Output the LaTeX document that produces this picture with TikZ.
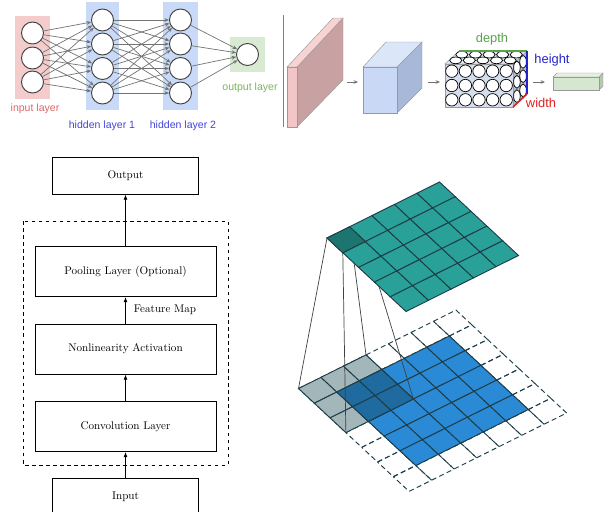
\documentclass[tikz,border=0pt]{standalone}
\usepackage{fontspec}
\newfontfamily\netfont{Liberation Sans}
\usetikzlibrary{arrows.meta}
\definecolor{inPink}{HTML}{F4CCCC}
\definecolor{hidBlue}{HTML}{C9DAF8}
\definecolor{outGreen}{HTML}{D9EAD3}
\definecolor{inRed}{HTML}{E06666}
\definecolor{hidText}{HTML}{4343D8}
\definecolor{outText}{HTML}{7DB35E}
\definecolor{slabFront}{HTML}{F2C6C6}
\definecolor{slabTop}{HTML}{F7D3D3}
\definecolor{slabSide}{HTML}{C8A2A2}
\definecolor{boxFront}{HTML}{C9D9F5}
\definecolor{boxTop}{HTML}{DCE6F9}
\definecolor{boxSide}{HTML}{A8B8D8}
\definecolor{cubeFill}{HTML}{D4DEEC}
\definecolor{fcFront}{HTML}{D5E8CF}
\definecolor{fcTop}{HTML}{E4F1DF}
\definecolor{fcSide}{HTML}{B6C8B0}
\definecolor{depthGreen}{HTML}{5DA04A}
\definecolor{heightBlue}{HTML}{2424CC}
\definecolor{widthRed}{HTML}{E02020}
\definecolor{gridLine}{HTML}{1D3E48}
\definecolor{outTeal}{HTML}{2AA198}
\definecolor{outTealDk}{HTML}{1C766F}
\definecolor{inBlue}{HTML}{2B8AD6}
\definecolor{inBlueDk}{HTML}{1F6A9E}
\definecolor{kerGray}{HTML}{A3B6BA}

\begin{document}
\begin{tikzpicture}[x=0.3mm,y=-0.3mm,
  neuron/.style={circle,draw=black!75,fill=white,line width=0.8pt,minimum size=6.6mm,inner sep=0pt},
  syn/.style={draw=black!55,line width=0.6pt,-{Stealth[length=1.4mm,width=1.1mm]}},
  netlbl/.style={font=\netfont\fontsize{9}{10}\selectfont},
  dimlbl/.style={font=\netfont\fontsize{11}{12}\selectfont},
  stage/.style={draw,line width=0.7pt,minimum width=54.3mm,minimum height=15mm,font=\fontsize{9.5}{11}\selectfont},
  io/.style={stage,minimum width=43.8mm,minimum height=11.1mm},
  flow/.style={-{Latex[length=1.6mm,width=1.2mm]},line width=0.7pt},
  face/.style={draw=black!40,line width=0.4pt},
  small/.style={draw=black!55,line width=0.6pt,-{Stealth[length=1.3mm,width=1.1mm]}},
  pad/.style={draw=gridLine,line width=0.8pt,dash pattern=on 1.5mm off 1mm},
  cell/.style={draw=gridLine,line width=0.8pt},
  lower/.style={shift={(298.5,388.5)},x={(6.75mm,3.36mm)},y={(4.74mm,-4.41mm)}},
  upper/.style={shift={(327,238)},x={(6.75mm,3.36mm)},y={(4.74mm,-4.41mm)}}]
  \useasboundingbox (0,0) rectangle (609,512);
  \clip (0,0) rectangle (609,512);

  % fully connected net
  \fill[inPink] (15,16) rectangle (50,99);
  \fill[hidBlue] (86,2) rectangle (119,110);
  \fill[hidBlue] (163,2) rectangle (198,110);
  \fill[outGreen] (230,37) rectangle (265,72);
  \foreach \i/\y in {1/33,2/58,3/82}
    \node[neuron] (in\i) at (32.5,\y) {};
  \foreach \i/\y in {1/20,2/44,3/68.5,4/93} {
    \node[neuron] (ha\i) at (102.5,\y) {};
    \node[neuron] (hb\i) at (180.5,\y) {};
  }
  \node[neuron] (out) at (247.5,54.5) {};
  \foreach \i in {1,2,3}
    \foreach \j in {1,...,4}
      \draw[syn] (in\i) -- (ha\j);
  \foreach \i in {1,...,4}
    \foreach \j in {1,...,4}
      \draw[syn] (ha\i) -- (hb\j);
  \foreach \i in {1,...,4}
    \draw[syn] (hb\i) -- (out);
  \node[netlbl,text=inRed] (inlbl) at (35,109) {input layer};
  \node[netlbl,text=hidText] (halbl) at (102,126) {hidden layer 1};
  \node[netlbl,text=hidText] (hblbl) at (183,126) {hidden layer 2};
  \node[netlbl,text=outText] (outlbl) at (250,88) {output layer};
  \draw[black!50,line width=0.8pt] (283,15) -- (283,127);

  % volumes
  \filldraw[face,fill=slabSide] (297,67) -- (343,18) -- (343,80) -- (297,127) -- cycle;
  \filldraw[face,fill=slabTop] (287,67) -- (333,18) -- (343,18) -- (297,67) -- cycle;
  \filldraw[face,fill=slabFront] (287,67) rectangle (297,127);
  \filldraw[face,fill=boxSide] (397,67) -- (422,42) -- (422,88) -- (397,113) -- cycle;
  \filldraw[face,fill=boxTop] (363,67) -- (386,42) -- (422,42) -- (397,67) -- cycle;
  \filldraw[face,fill=boxFront] (363,67) rectangle (397,113);
  \filldraw[face,fill=cubeFill!85!black] (513,64) -- (527,51) -- (527,94) -- (513,107) -- cycle;
  \filldraw[face,fill=cubeFill!80!white] (445,64) -- (459,51) -- (527,51) -- (513,64) -- cycle;
  \filldraw[face,fill=cubeFill] (445,64) rectangle (513,107);
  \foreach \d in {0.72,0.28}
    \foreach \i in {0,...,4} {
      \filldraw[fill=white,draw=black,line width=0.6pt] (451.8+13.6*\i+14*\d,64-13*\d) ellipse [x radius=6.1,y radius=3.3];
    }
  \foreach \d in {0.72,0.28}
    \foreach \j in {0,1,2} {
      \filldraw[fill=white,draw=black,line width=0.6pt] (513+14*\d,71.2+14.3*\j-13*\d) ellipse [x radius=3.3,y radius=6.4];
    }
  \foreach \i in {0,...,4}
    \foreach \j in {0,1,2}
      \filldraw[fill=white,draw=black,line width=0.6pt] (451.8+13.6*\i,71.2+14.3*\j) circle [radius=6.2];
  \draw[depthGreen,line width=1.3pt] (459,51) -- (527,51);
  \draw[heightBlue,line width=1.3pt] (527,51) -- (527,94);
  \draw[widthRed,line width=1.3pt] (513,107) -- (527,94);
  \node[dimlbl,text=depthGreen] (dlbl) at (492,39) {depth};
  \node[dimlbl,text=heightBlue] (hlbl) at (552,60) {height};
  \node[dimlbl,text=widthRed] (wlbl) at (541,103) {width};
  \filldraw[face,fill=fcSide] (599,77) -- (603,73) -- (603,86) -- (599,90) -- cycle;
  \filldraw[face,fill=fcTop] (553,77) -- (557,73) -- (603,73) -- (599,77) -- cycle;
  \filldraw[face,fill=fcFront] (553,77) rectangle (599,90);
  \coordinate (a1) at (347,82);
  \coordinate (b1) at (358,82);
  \coordinate (a2) at (428,82);
  \coordinate (b2) at (440,82);
  \coordinate (a3) at (533,82);
  \coordinate (b3) at (545,82);
  \draw[small] (a1) -- (b1);
  \draw[small] (a2) -- (b2);
  \draw[small] (a3) -- (b3);

  % CNN block
  \node[io] (outp) at (125.5,175.5) {Output};
  \node[stage] (pool) at (125.5,271.5) {Pooling Layer (Optional)};
  \node[stage] (act) at (125.5,349) {Nonlinearity Activation};
  \node[stage] (conv) at (125.5,426.5) {Convolution Layer};
  \node[io] (inp) at (125.5,496.5) {Input};
  \draw[dashed,line width=0.7pt] (23,221) rectangle (228,465);
  \draw[flow] (inp) -- (conv);
  \draw[flow] (conv) -- (act);
  \draw[flow] (act) -- node[right=1.2mm,font=\fontsize{9.5}{11}\selectfont] (fmap) {Feature Map} (pool);
  \draw[flow] (pool) -- (outp);

  % convolution over padded input
  \begin{scope}[lower]
    \foreach \a in {0,...,6}
      \foreach \b in {0,...,6}
        \draw[pad] (\a,\b) -- ++(1,0) -- ++(0,1) -- ++(-1,0) -- cycle;
    \foreach \a in {1,...,5}
      \foreach \b in {1,...,5}
        \filldraw[cell,fill=inBlue] (\a,\b) -- ++(1,0) -- ++(0,1) -- ++(-1,0) -- cycle;
    \foreach \a in {0,1,2}
      \foreach \b in {0,1,2}
        \filldraw[cell,fill=kerGray] (\a,\b) -- ++(1,0) -- ++(0,1) -- ++(-1,0) -- cycle;
    \foreach \a in {1,2}
      \foreach \b in {1,2}
        \filldraw[cell,fill=inBlueDk] (\a,\b) -- ++(1,0) -- ++(0,1) -- ++(-1,0) -- cycle;
    \coordinate (k0) at (0,0);
    \coordinate (k1) at (3,0);
    \coordinate (k2) at (3,3);
    \coordinate (k3) at (0,3);
  \end{scope}
  \begin{scope}[upper]
    \coordinate (f0) at (0,0);
    \coordinate (f1) at (1,0);
    \coordinate (f2) at (1,1);
    \coordinate (f3) at (0,1);
  \end{scope}
  \foreach \n in {0,...,3}
    \draw[black!75,line width=0.6pt] (f\n) -- (k\n);
  \begin{scope}[upper]
    \foreach \a in {0,...,4}
      \foreach \b in {0,...,4}
        \filldraw[cell,fill=outTeal] (\a,\b) -- ++(1,0) -- ++(0,1) -- ++(-1,0) -- cycle;
    \filldraw[cell,fill=outTealDk] (0,0) -- ++(1,0) -- ++(0,1) -- ++(-1,0) -- cycle;
  \end{scope}
\end{tikzpicture}
\end{document}
